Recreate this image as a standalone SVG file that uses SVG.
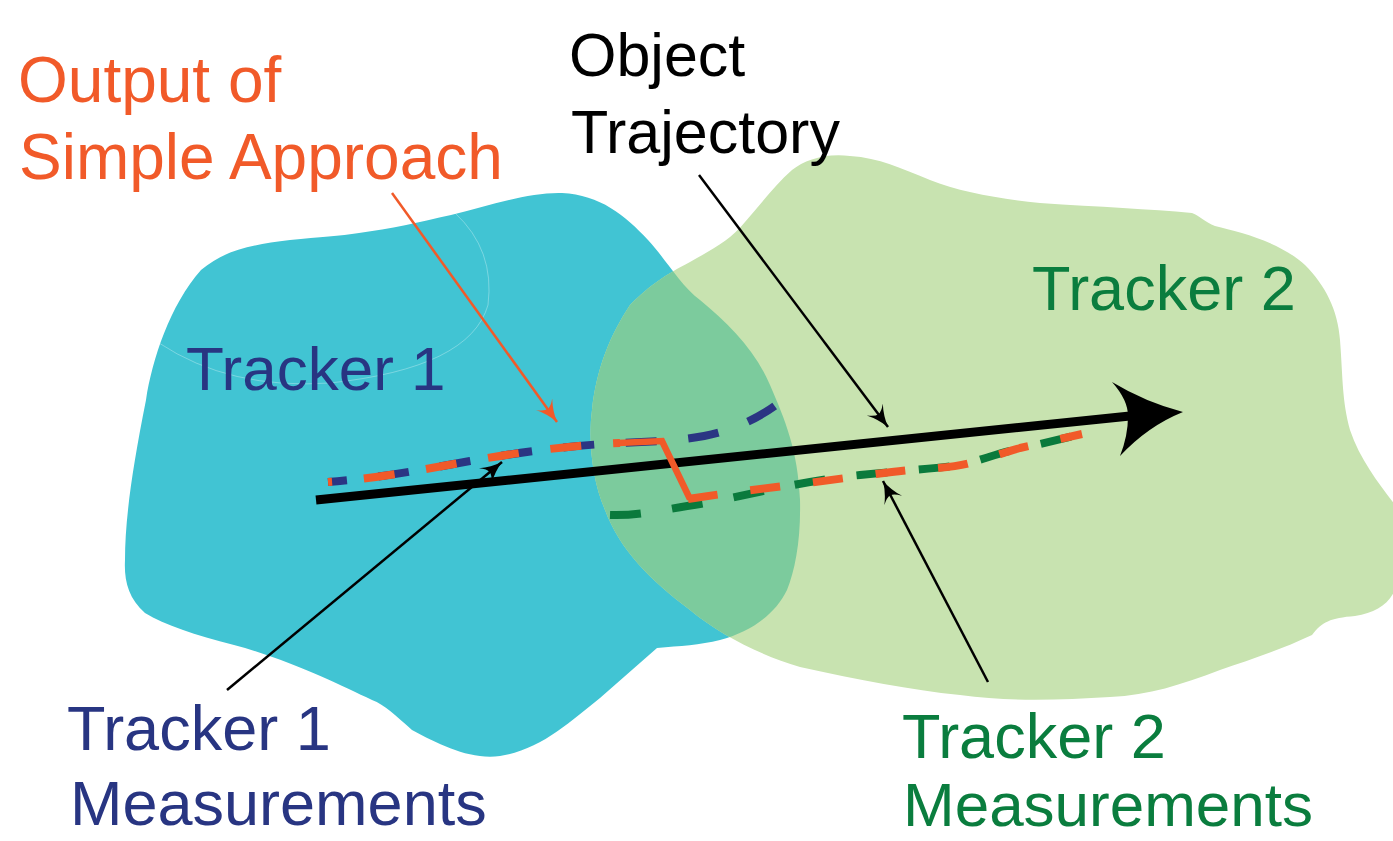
<svg xmlns="http://www.w3.org/2000/svg" width="1393" height="841" viewBox="0 0 1393 841">
<style>
.lbl{font-family:"Liberation Sans",Arial,sans-serif;}
.org{fill:#f15a29}
.nav{fill:#283582}
.grn{fill:#0a7d3e}
.blk{fill:#000}
.dash{fill:none;stroke-width:8;stroke-linecap:butt;stroke-linejoin:round}
.thin{fill:none;stroke:#000;stroke-width:2.5}
</style>
<defs>
<path id="greenShape" d="M792,170 C805,160 825,153 850,156 C880,158 900,168 930,180 C960,192 1000,199 1040,203 C1100,207 1150,209 1192,213 C1200,216 1205,222 1215,226 C1240,232 1280,242 1305,265 C1325,285 1338,310 1340,340 C1343,380 1342,400 1350,430 C1360,460 1380,485 1395,505 L1395,590 C1388,605 1375,613 1355,616 C1330,618 1322,622 1312,635 C1280,650 1250,660 1220,670 C1180,685 1150,695 1110,697 C1060,700 1010,702 960,695 C910,690 860,680 800,667 C760,655 720,635 690,610 C650,580 620,550 605,510 C592,480 588,440 592,410 C596,370 610,335 630,305 C650,285 665,275 690,262 C715,248 730,240 745,222 C760,205 775,185 792,170 Z"/>
<path id="blueShape" d="M146,400 C152,360 170,305 201,270 C225,250 250,245 290,240 C320,237 340,236 359,233 C390,229 420,222 451,215 C490,205 530,192 562,193 C600,195 625,215 648,240 C665,258 680,285 700,300 C730,325 755,350 770,385 C785,420 798,450 800,500 C801,540 795,570 787,590 C775,615 750,632 720,640 C700,645 680,646 657,648 L600,698 C570,722 540,750 500,756 C470,760 440,745 412,730 C395,715 385,705 372,700 C340,685 290,660 234,645 C195,635 165,625 145,613 C128,598 124,580 125,560 C125,520 132,470 146,400 Z"/>
<clipPath id="greenClip"><use href="#greenShape"/></clipPath>
<marker id="ahB" markerUnits="userSpaceOnUse" markerWidth="24" markerHeight="22" refX="22" refY="10" orient="auto" viewBox="0 0 24 22">
<path d="M22,10 Q10,7 0,0 Q6,6 6,10 Q6,14 0,20 Q10,13 22,10 Z" fill="#000"/>
</marker>
<marker id="ahO" markerUnits="userSpaceOnUse" markerWidth="24" markerHeight="22" refX="22" refY="10" orient="auto" viewBox="0 0 24 22">
<path d="M22,10 Q10,7 0,0 Q6,6 6,10 Q6,14 0,20 Q10,13 22,10 Z" fill="#f15a29"/>
</marker>
</defs>

<g id="regions">
<g id="tracker1-region"><use href="#blueShape" fill="#41c4d3"/></g>
<g id="tracker2-region"><use href="#greenShape" fill="#c8e3b0"/></g>
<g id="overlap"><use href="#blueShape" fill="#7ccb9d" clip-path="url(#greenClip)"/></g>
<path d="M159,343 Q230,390 330,383 Q470,368 488,305 Q495,250 455,213" fill="none" stroke="#ffffff" stroke-opacity="0.3" stroke-width="1"/>
</g>

<g id="object-trajectory">
<line x1="316" y1="500" x2="1130" y2="416" stroke="#000" stroke-width="9"/>
<path d="M1183,412 Q1145,402 1112,382 Q1128,400 1128,416 Q1128,436 1120,456 Q1148,426 1183,412 Z" fill="#000"/>
</g>

<g id="connectors">
<path id="tracker1-meas" class="dash" stroke="#2b3583" stroke-dasharray="31 31.5" stroke-dashoffset="12" d="M328,482 C380,478 420,470 470,461 C510,454 560,446 620,443 L662,441 C690,439 710,436 730,429 C750,422 770,411 786,397"/>
<path id="tracker2-meas" class="dash" stroke="#0a7a3c" stroke-dasharray="31 31.5" d="M610,515 C640,516 660,510 700,504 C740,497 800,481 860,475 C900,471 940,468 960,465 C980,461 1000,452 1020,449 L1082,434"/>
<g id="simple-output">
<path class="dash" stroke="#f15a29" stroke-dasharray="31 32" stroke-dashoffset="27" d="M328,482 C380,478 420,470 470,461 C510,454 560,446 620,443"/>
<path fill="none" stroke="#f15a29" stroke-width="6.5" stroke-linejoin="miter" d="M618,443 L662,441 L690,499"/>
<path class="dash" stroke="#f15a29" stroke-dasharray="30 33" d="M688,499 C720,494 760,489 800,484 C840,479 880,473 910,470 C940,468 955,467 970,463 C990,458 1005,452 1020,448 L1082,434"/>
</g>
<line class="thin" x1="227" y1="690" x2="502" y2="462" marker-end="url(#ahB)"/>
<line class="thin" x1="699" y1="175" x2="888" y2="427" marker-end="url(#ahB)"/>
<line class="thin" x1="988" y1="682" x2="883" y2="481" marker-end="url(#ahB)"/>
<line x1="392" y1="193" x2="557" y2="422" stroke="#f15a29" stroke-width="2.5" marker-end="url(#ahO)"/>
</g>

<g id="label-output">
<text class="lbl org" font-size="64" x="18" y="102">Output of</text>
<text class="lbl org" font-size="64" x="19" y="179">Simple Approach</text>
</g>
<g id="label-object">
<text class="lbl blk" font-size="61" x="569" y="76">Object</text>
<text class="lbl blk" font-size="61" x="571" y="153">Trajectory</text>
</g>
<g id="label-tracker1">
<text class="lbl nav" font-size="62" x="186" y="390">Tracker 1</text>
</g>
<g id="label-tracker2">
<text class="lbl grn" font-size="63" x="1032" y="310">Tracker 2</text>
</g>
<g id="label-t1meas">
<text class="lbl nav" font-size="63" x="67" y="750">Tracker 1</text>
<text class="lbl nav" font-size="63" x="70" y="825">Measurements</text>
</g>
<g id="label-t2meas">
<text class="lbl grn" font-size="63" x="902" y="758">Tracker 2</text>
<text class="lbl grn" font-size="62" x="903" y="826">Measurements</text>
</g>
</svg>
